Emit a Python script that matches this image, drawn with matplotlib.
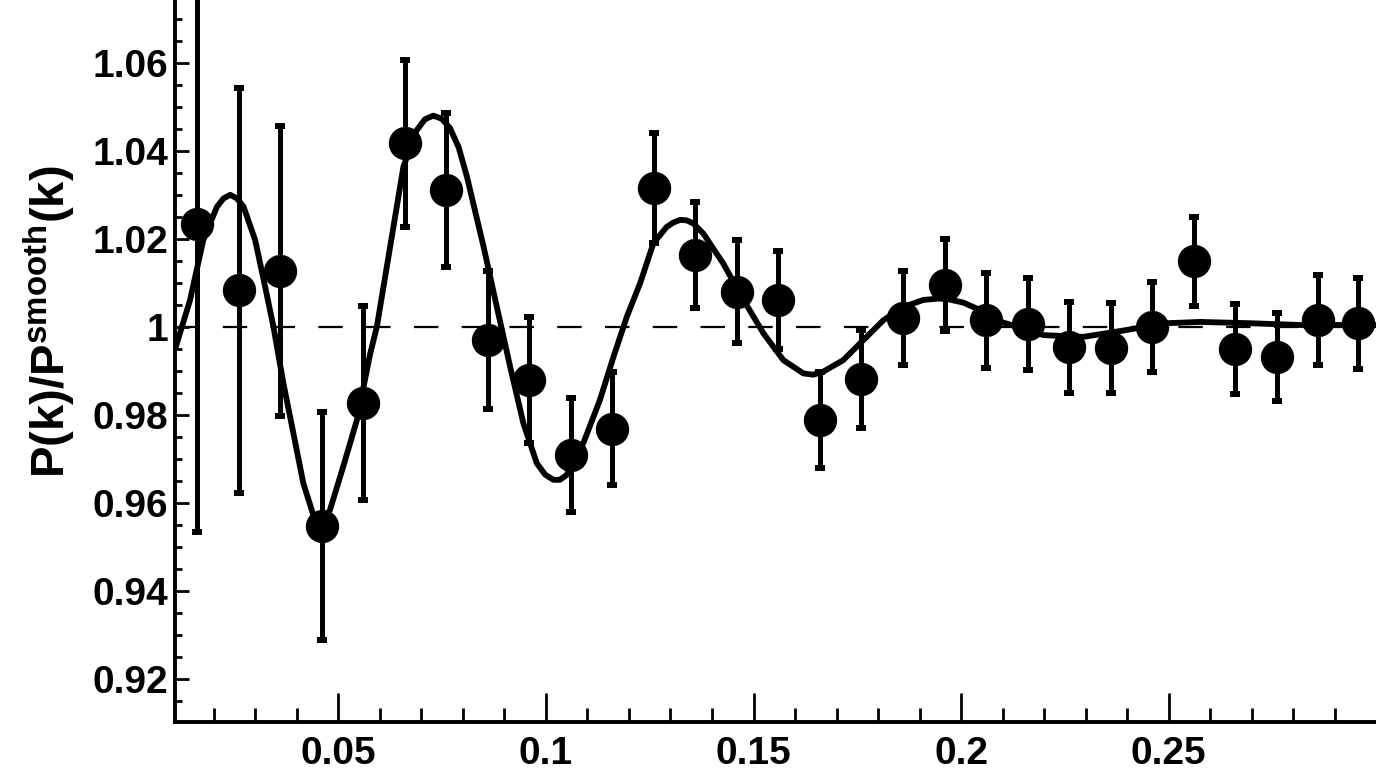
#!/usr/bin/env python3
"""ratio of the power spectrum to its smooth version"""
import matplotlib
matplotlib.use('Agg')
import matplotlib.pyplot as plt
from matplotlib.ticker import MultipleLocator

# measured band powers
k = [0.016, 0.026, 0.036, 0.046, 0.056, 0.066, 0.076, 0.086, 0.096, 0.106,
     0.116, 0.126, 0.136, 0.146, 0.156, 0.166, 0.176, 0.186, 0.196, 0.206,
     0.216, 0.226, 0.236, 0.246, 0.256, 0.266, 0.276, 0.286, 0.2955]
ratio = [1.0233, 1.0083, 1.0127, 0.9547, 0.9827, 1.0417, 1.0310, 0.9970,
         0.9879, 0.9708, 0.9768, 1.0315, 1.0163, 1.0080, 1.0061, 0.9788,
         0.9881, 1.0020, 1.0095, 1.0015, 1.0006, 0.9953, 0.9951, 1.0000,
         1.0149, 0.9949, 0.9932, 1.0015, 1.0008]
err = [0.070, 0.046, 0.033, 0.026, 0.022, 0.019, 0.0175, 0.0157, 0.0144,
       0.0130, 0.0128, 0.0125, 0.0120, 0.0118, 0.0111, 0.0110, 0.0112,
       0.0107, 0.0105, 0.0108, 0.0105, 0.0103, 0.0102, 0.0102, 0.0101,
       0.0103, 0.0100, 0.0102, 0.0104]

# best-fit model curve
model_k = [0.0110, 0.0143, 0.0175, 0.0208, 0.0224, 0.0240, 0.0256, 0.0272,
           0.0300, 0.0324, 0.0344, 0.0368, 0.0392, 0.0416, 0.0440, 0.0448,
           0.0456, 0.0468, 0.0480, 0.0512, 0.0545, 0.0577, 0.0593, 0.0625,
           0.0657, 0.0689, 0.0709, 0.0729, 0.0749, 0.0769, 0.0790, 0.0810,
           0.0850, 0.0882, 0.0914, 0.0946, 0.0978, 0.0998, 0.1018, 0.1034,
           0.1050, 0.1090, 0.1130, 0.1163, 0.1195, 0.1227, 0.1259, 0.1291,
           0.1307, 0.1323, 0.1339, 0.1355, 0.1379, 0.1427, 0.1476, 0.1524,
           0.1572, 0.1620, 0.1644, 0.1668, 0.1716, 0.1765, 0.1813, 0.1861,
           0.1909, 0.1957, 0.2005, 0.2053, 0.2100, 0.2198, 0.2294, 0.2375,
           0.2495, 0.2575, 0.2696, 0.2816, 0.2936, 0.3000]
model = [0.9958, 1.0060, 1.0197, 1.0273, 1.0292, 1.0300, 1.0292, 1.0273,
         1.0197, 1.0091, 1.0000, 0.9871, 0.9758, 0.9644, 0.9572, 0.9561,
         0.9557, 0.9565, 0.9583, 0.9682, 0.9788, 0.9939, 1.0000, 1.0182,
         1.0364, 1.0447, 1.0472, 1.0480, 1.0473, 1.0452, 1.0408, 1.0341,
         1.0182, 1.0045, 0.9909, 0.9780, 0.9690, 0.9664, 0.9652, 0.9652,
         0.9663, 0.9735, 0.9833, 0.9932, 1.0023, 1.0099, 1.0190, 1.0227,
         1.0237, 1.0243, 1.0242, 1.0235, 1.0212, 1.0144, 1.0061, 0.9985,
         0.9924, 0.9894, 0.9891, 0.9898, 0.9924, 0.9970, 1.0015, 1.0045,
         1.0061, 1.0065, 1.0055, 1.0035, 1.0010, 0.9981, 0.9977, 0.9989,
         1.0008, 1.0011, 1.0008, 1.0004, 1.0004, 1.0004]

xticks = [0.05, 0.1, 0.15, 0.2, 0.25]
xticklabels = ['0.05', '0.1', '0.15', '0.2', '0.25']
yticks = [0.92, 0.94, 0.96, 0.98, 1.0, 1.02, 1.04, 1.06]
yticklabels = ['0.92', '0.94', '0.96', '0.98', '1', '1.02', '1.04', '1.06']

plt.rcParams['font.family'] = ['Liberation Sans', 'DejaVu Sans']
plt.rcParams['mathtext.fontset'] = 'custom'
plt.rcParams['mathtext.rm'] = 'Liberation Sans:bold'
plt.rcParams['mathtext.bf'] = 'Liberation Sans:bold'

fig = plt.figure(figsize=(13.76, 7.74), dpi=100)
ax = fig.add_axes([0.1272, 0.0676, 0.8728, 0.9324])

ax.axhline(1.0, color='black', lw=1.6, dashes=[11, 10.5], zorder=1)
ax.plot(model_k, model, color='black', lw=4.2, solid_joinstyle='round',
        zorder=2)
ax.errorbar(k, ratio, yerr=err, fmt='o', color='black', ms=23,
            elinewidth=3.6, capsize=3.6, capthick=4.3, zorder=3)

ax.set_xlim(0.0107, 0.2999)
ax.set_ylim(0.9102, 1.0743)

for side in ['top', 'right']:
    ax.spines[side].set_visible(False)
for side in ['left', 'bottom']:
    ax.spines[side].set_linewidth(2.8)

ax.set_xticks(xticks)
ax.set_xticklabels(xticklabels)
ax.set_yticks(yticks)
ax.set_yticklabels(yticklabels)
ax.xaxis.set_minor_locator(MultipleLocator(0.01))
ax.yaxis.set_minor_locator(MultipleLocator(0.005))
ax.tick_params(axis='x', which='major', direction='in', length=21,
               width=2, labelsize=28, pad=10)
ax.tick_params(axis='x', which='minor', direction='in', length=10, width=2)
ax.tick_params(axis='y', which='major', direction='in', length=10,
               width=2, labelsize=28, pad=5)
ax.tick_params(axis='y', which='minor', direction='in', length=5, width=2)
for lab in ax.get_xticklabels() + ax.get_yticklabels():
    lab.set_fontweight('bold')

ax.set_ylabel(r'$\mathbf{P(k)/P^{smooth}(k)}$', fontsize=34)
ax.yaxis.set_label_coords(-0.082, 0.554)

fig.savefig('out.png', dpi=100)
